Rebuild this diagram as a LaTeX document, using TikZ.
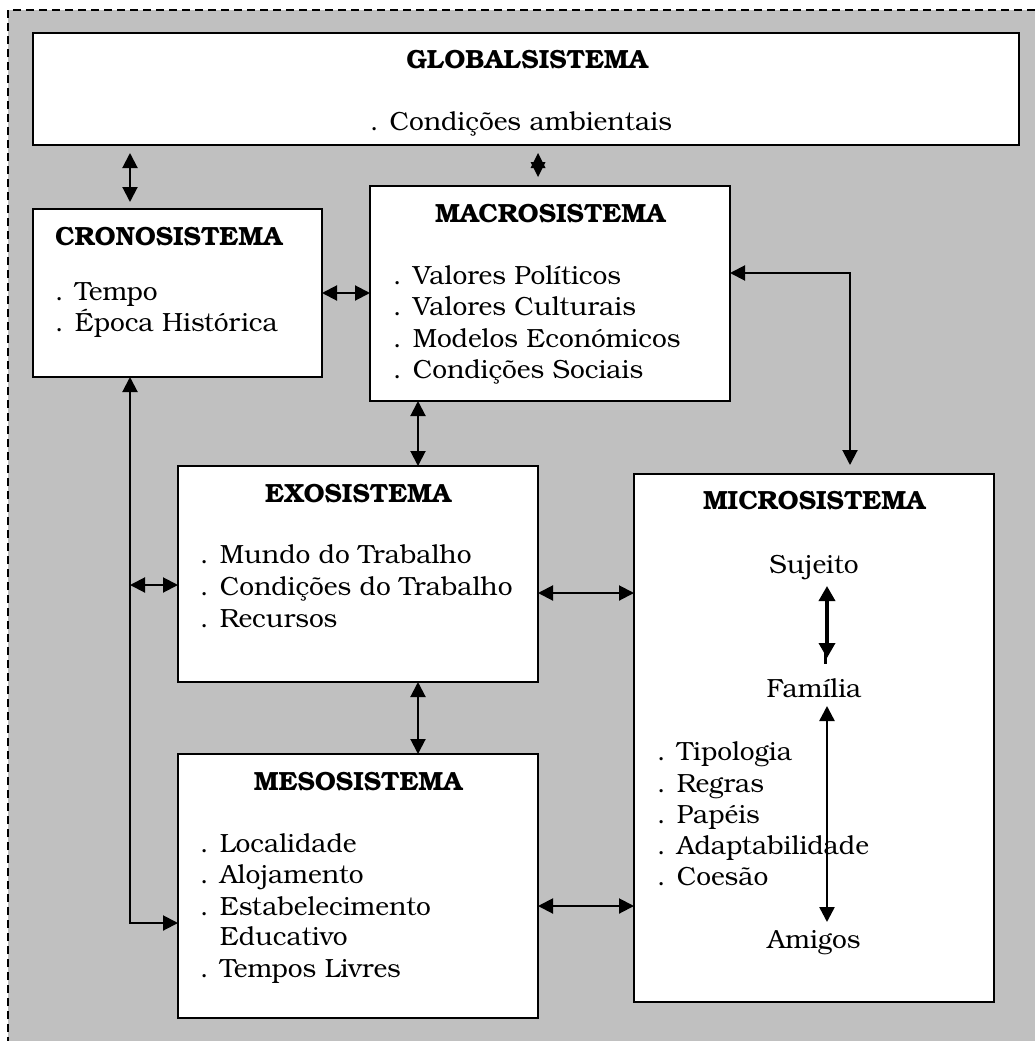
\documentclass[tikz,border=0pt]{standalone}
\usepackage{fontspec}
\setmainfont{TeX Gyre Bonum}
\usetikzlibrary{arrows.meta,calc}
\definecolor{bggray}{HTML}{C0C0C0}
\newcommand{\txtsize}{\fontsize{26.3}{31}\selectfont}
\begin{document}
\begin{tikzpicture}[x=1pt,y=-1pt,
  box/.style={draw=black, fill=white, line width=2pt, rectangle, anchor=north west, inner sep=0pt, outer sep=0pt},
  ttl/.style={font=\txtsize\bfseries, anchor=base, inner sep=0pt},
  itm/.style={font=\txtsize, anchor=base west, inner sep=0pt},
  ctr/.style={font=\txtsize, anchor=base, inner sep=0pt},
  conn/.style={line width=2pt, {Triangle[length=15pt,width=15pt]}-{Triangle[length=15pt,width=15pt]}},
  thickconn/.style={line width=3.5pt, {Triangle[length=15pt,width=16pt]}-{Triangle[length=15pt,width=16pt]}}
]
\useasboundingbox (0,0) rectangle (1034,1041);
% background
\fill[bggray] (8,10) rectangle (1040,1045);
\draw[dash pattern=on 8pt off 5pt, line width=1.2pt] (8,1045) -- (8,10) -- (1040,10);

% boxes
\node[box, minimum width=986pt, minimum height=112pt] (glob) at (33,33) {};
\node[box, minimum width=289pt, minimum height=168pt] (crono) at (33,209) {};
\node[box, minimum width=360pt, minimum height=215pt] (macro) at (370,186) {};
\node[box, minimum width=360pt, minimum height=216pt] (exo) at (178,466) {};
\node[box, minimum width=360pt, minimum height=264pt] (meso) at (178,754) {};
\node[box, minimum width=360pt, minimum height=528pt] (micro) at (634,474) {};

% texts
\node[ttl] (globt) at (527,68) {GLOBALSISTEMA};
\node[ctr] (globi) at (521,130) {. Condições ambientais};

\node[ttl, anchor=base west] (cront) at (55,245) {CRONOSISTEMA};
\node[itm] (cron1) at (55,300) {. Tempo};
\node[itm] (cron2) at (55,331) {. Época Histórica};

\node[ttl] (macrot) at (550,222) {MACROSISTEMA};
\node[itm] (mac1) at (393,284) {. Valores Políticos};
\node[itm] (mac2) at (393,315) {. Valores Culturais};
\node[itm] (mac3) at (393,347) {. Modelos Económicos};
\node[itm] (mac4) at (393,378) {. Condições Sociais};

\node[ttl] (exot) at (358,502) {EXOSISTEMA};
\node[itm] (exo1) at (200,563) {. Mundo do Trabalho};
\node[itm] (exo2) at (200,595) {. Condições do Trabalho};
\node[itm] (exo3) at (200,627) {. Recursos};

\node[ttl] (mesot) at (358,790) {MESOSISTEMA};
\node[itm] (mes1) at (200,852) {. Localidade};
\node[itm] (mes2) at (200,883) {. Alojamento};
\node[itm] (mes3) at (200,915) {. Estabelecimento};
\node[itm] (mes4) at (200,945) {\phantom{. }Educativo};
\node[itm] (mes5) at (200,977) {. Tempos Livres};

\node[ttl] (microt) at (814,509) {MICROSISTEMA};
\node[ctr] (suj) at (814,573) {Sujeito};
\node[ctr] (fam) at (814,697) {Família};
\node[itm] (mic1) at (657,760) {. Tipologia};
\node[itm] (mic2) at (657,792) {. Regras};
\node[itm] (mic3) at (657,823) {. Papéis};
\node[itm] (mic4) at (657,854) {. Adaptabilidade};
\node[itm] (mic5) at (657,885) {. Coesão};
\node[ctr] (ami) at (814,948) {Amigos};

% helper coordinates
\coordinate (cA) at (130,0);
\coordinate (cB) at (538,0);
\coordinate (cC) at (0,293);
\coordinate (cD) at (0,273);
\coordinate (cE) at (850,0);
\coordinate (cF) at (418,0);
\coordinate (cG) at (0,923);
\coordinate (cH) at (0,585);
\coordinate (cI) at (0,593);
\coordinate (cJ) at (0,906);
\coordinate (cK) at (827,0);

% connectors
\draw[conn, shorten <=8pt, shorten >=7pt] (glob.south -| cA) -- (crono.north -| cA);
% tiny double arrow between Globalsistema and Macrosistema (two overlapping heads)
\coordinate (gmtop) at ($(glob.south -| cB)+(0,8)$);
\coordinate (gmbot) at ($(macro.north -| cB)+(0,-9)$);
\fill (gmtop) -- ($(gmtop)+(7.5,15)$) -- ($(gmtop)+(-7.5,15)$) -- cycle;
\fill (gmbot) -- ($(gmbot)+(7.5,-15)$) -- ($(gmbot)+(-7.5,-15)$) -- cycle;
\draw[conn] (crono.east |- cC) -- (macro.west |- cC);
\draw[conn, shorten >=9pt] (macro.east |- cD) -| (micro.north -| cE);
\draw[conn] (macro.south -| cF) -- (exo.north -| cF);
\draw[conn] (crono.south -| cA) -- (cA |- cG) -- (meso.west |- cG);
\draw[conn] (cA |- cH) -- (exo.west |- cH);
\draw[conn] (exo.east |- cI) -- (micro.west |- cI);
\draw[conn] (exo.south -| cF) -- (meso.north -| cF);
\draw[conn] (meso.east |- cJ) -- (micro.west |- cJ);
\draw[thickconn] ($(suj.base -| cK)+(0,13)$) -- ($(fam.base -| cK)+(0,-39)$);
\draw[line width=3pt] ($(fam.base -| cK)+(-2,-45)$) -- ($(fam.base -| cK)+(-2,-33)$);
\draw[conn, line width=2.5pt] ($(fam.base -| cK)+(0,9)$) -- ($(ami.base -| cK)+(0,-26)$);
\end{tikzpicture}
\end{document}
